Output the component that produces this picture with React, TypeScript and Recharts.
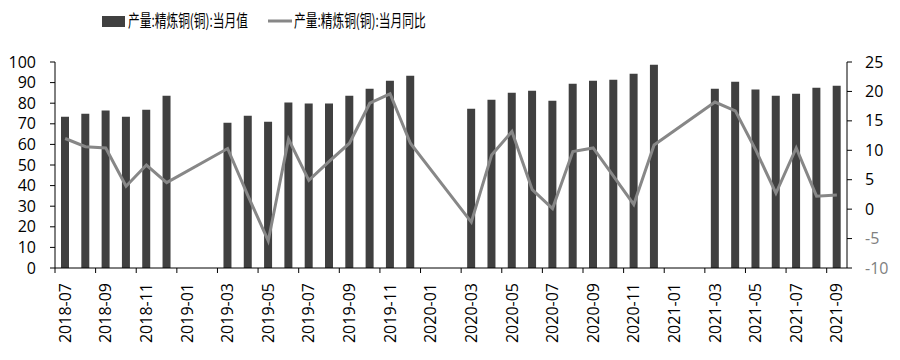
import { ComposedChart, Bar, Line, XAxis, YAxis, Legend } from "recharts";

// monthly refined copper output (10k t) and YoY growth (%), Jan/Feb not published
const months = [
  "2018-07", "2018-08", "2018-09", "2018-10", "2018-11", "2018-12",
  "2019-01", "2019-02", "2019-03", "2019-04", "2019-05", "2019-06",
  "2019-07", "2019-08", "2019-09", "2019-10", "2019-11", "2019-12",
  "2020-01", "2020-02", "2020-03", "2020-04", "2020-05", "2020-06",
  "2020-07", "2020-08", "2020-09", "2020-10", "2020-11", "2020-12",
  "2021-01", "2021-02", "2021-03", "2021-04", "2021-05", "2021-06",
  "2021-07", "2021-08", "2021-09",
];

const monthlyOutput = [
  73.4, 74.9, 76.4, 73.4, 76.8, 83.6,
  null, null, 70.5, 73.9, 71.0, 80.3,
  79.8, 79.8, 83.6, 87.0, 90.9, 93.3,
  null, null, 77.3, 81.7, 85.1, 86.1,
  81.2, 89.5, 90.9, 91.4, 94.3, 98.7,
  null, null, 87.0, 90.4, 86.6, 83.6,
  84.6, 87.5, 88.5,
];

const yoyGrowth = [
  12.0, 10.6, 10.4, 3.9, 7.5, 4.5,
  null, null, 10.3, 2.3, -5.4, 11.9,
  4.9, 8.1, 11.2, 18.0, 19.6, 11.2,
  null, null, -2.2, 9.2, 13.2, 3.3,
  0.1, 9.8, 10.4, 5.6, 0.8, 10.9,
  null, null, 18.2, 16.7, 10.1, 2.7,
  10.4, 2.2, 2.4,
];

const leftTicks = [0, 10, 20, 30, 40, 50, 60, 70, 80, 90, 100];
const rightTicks = [-10, -5, 0, 5, 10, 15, 20, 25];

const BAR_COLOR = "#404040";
const LINE_COLOR = "#878787";
const FONT = "'Open Sans', 'Liberation Sans', sans-serif";

const data = months.map((m, i) => ({
  month: m,
  output: monthlyOutput[i],
  yoy: yoyGrowth[i],
}));

// label centred under the month, tick mark on the left edge of the band (Excel style)
function MonthTick(props: any) {
  const { x, y, payload } = props;
  const half = payload.offset ?? 0;
  return (
    <g>
      <line x1={x - half} x2={x - half} y1={y - 5} y2={y} stroke="#000" />
      <text
        transform={`translate(${x},${y + 10}) rotate(-90)`}
        textAnchor="end"
        dy="0.35em"
        fontSize={16}
        fontFamily={FONT}
        fill="#000"
      >
        {payload.value}
      </text>
    </g>
  );
}

function RightTick(props: any) {
  const { x, y, payload } = props;
  return (
    <text
      x={x}
      y={y}
      dy="0.35em"
      textAnchor="start"
      fontSize={16}
      fontFamily={FONT}
      fill={payload.value < 0 ? "#808080" : "#000"}
    >
      {payload.value}
    </text>
  );
}

// the source legend uses a narrow CJK face, so squeeze the text horizontally
const legendSlots = [102, 268];

function LegendContent(props: any) {
  const items = props.payload || [];
  return (
    <svg width={900} height={34} style={{ display: "block", overflow: "visible" }}>
      {items.map((entry: any, i: number) => {
        const x = legendSlots[i];
        if (x === undefined) return null;
        return (
          <g key={entry.value}>
            {entry.type === "line" ? (
              <line x1={x} x2={x + 24} y1={21} y2={21} stroke={entry.color} strokeWidth={3} />
            ) : (
              <rect x={x} y={16} width={23} height={11} fill={entry.color} />
            )}
            <text
              transform={`translate(${x + 26},27) scale(0.69,1)`}
              fontSize={17}
              fontFamily="'Noto Sans CJK SC', sans-serif"
              fill="#000"
            >
              {entry.value}
            </text>
          </g>
        );
      })}
    </svg>
  );
}

export default function App() {
  return (
    <div style={{ position: "absolute", left: 0, top: 0, background: "#fff" }}>
      <ComposedChart
        width={900}
        height={360}
        data={data}
        margin={{ top: 28, right: 0, left: 0, bottom: 0 }}
      >
        <Legend
          verticalAlign="top"
          align="left"
          content={<LegendContent />}
          wrapperStyle={{ top: 0, left: 0, width: 900, height: 34 }}
        />
        <XAxis
          dataKey="month"
          interval={1}
          height={92}
          tickSize={5}
          tickMargin={0}
          tickLine={false}
          axisLine={{ stroke: "#000" }}
          tick={<MonthTick />}
        />
        <YAxis
          yAxisId="left"
          domain={[0, 100]}
          ticks={leftTicks}
          interval={0}
          width={55}
          tickSize={5}
          tickMargin={14}
          axisLine={{ stroke: "#000" }}
          tickLine={{ stroke: "#000" }}
          tick={{ fill: "#000", fontSize: 16, fontFamily: FONT }}
        />
        <YAxis
          yAxisId="right"
          orientation="right"
          domain={[-10, 25]}
          ticks={rightTicks}
          interval={0}
          width={53}
          tickSize={5}
          tickMargin={13}
          axisLine={{ stroke: "#000" }}
          tickLine={{ stroke: "#000" }}
          tick={<RightTick />}
        />
        <Bar
          yAxisId="left"
          dataKey="output"
          name="产量:精炼铜(铜):当月值"
          fill={BAR_COLOR}
          barSize={8}
          isAnimationActive={false}
        />
        <Line
          yAxisId="right"
          dataKey="yoy"
          name="产量:精炼铜(铜):当月同比"
          type="linear"
          stroke={LINE_COLOR}
          strokeWidth={3}
          dot={false}
          activeDot={false}
          connectNulls
          isAnimationActive={false}
        />
      </ComposedChart>
    </div>
  );
}
